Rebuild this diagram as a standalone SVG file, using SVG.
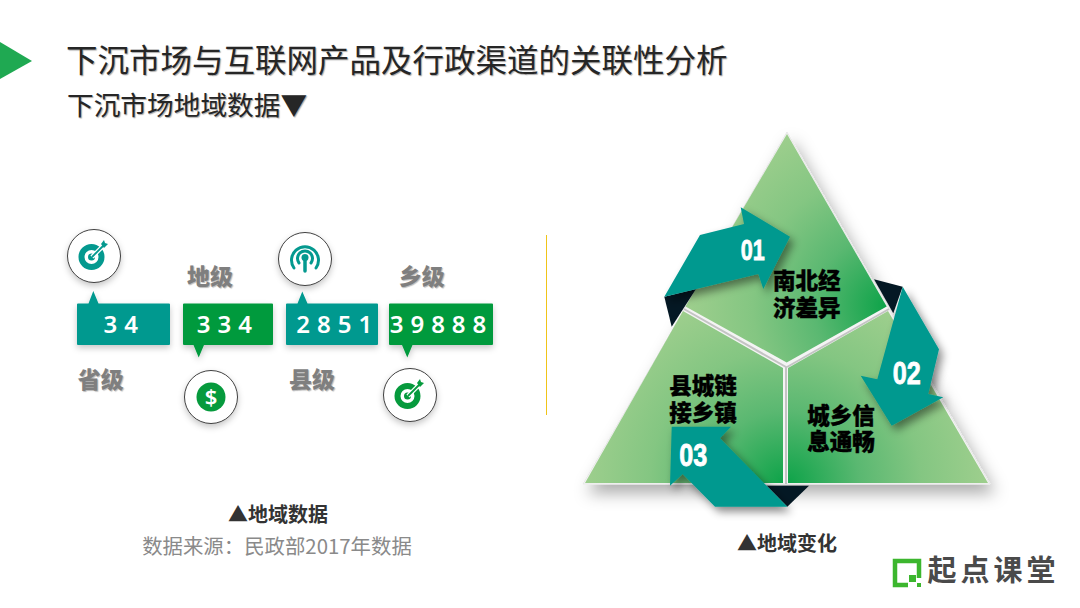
<svg xmlns="http://www.w3.org/2000/svg" width="1080" height="608" viewBox="0 0 1080 608">
<style>
text{font-family:"Noto Sans CJK SC","Noto Sans",sans-serif;text-anchor:middle}
.title{font-size:31.5px;fill:#262626;text-anchor:start;text-shadow:1px 1px 1px #aaa}
.sub{font-size:26.7px;fill:#262626;text-anchor:start;text-shadow:1px 1px 1px #aaa}
.lvl{font-size:23px;font-weight:900;fill:#7f7f7f;text-shadow:1px 1px 1px #bbb}
.num{font-family:"Noto Sans","Open Sans",sans-serif;font-size:24px;font-weight:600;fill:#fff;letter-spacing:7px}
.cap{font-size:20px;font-weight:700;fill:#333}
.src{font-size:20.4px;fill:#8a8a8a}
.tri{font-size:22.5px;font-weight:900;fill:#000;stroke:#000;stroke-width:.4px}
.no{font-family:"Liberation Sans",sans-serif;font-weight:700;fill:#fff;stroke:#fff;stroke-width:.8px}
.teal{fill:#04998f}.green{fill:#069a3d}.dark{fill:#041824}
.ring{fill:#fff;stroke:#404040;stroke-width:1;filter:url(#ss)}
</style>
<defs>
<filter id="ss" x="-30%" y="-30%" width="160%" height="170%"><feDropShadow dx="0" dy="3" stdDeviation="3" flood-color="#000" flood-opacity=".22"/></filter>
<filter id="as" x="-30%" y="-30%" width="170%" height="170%"><feDropShadow dx="4" dy="5" stdDeviation="4" flood-color="#000" flood-opacity=".45"/></filter>
<filter id="ts" x="-15%" y="-15%" width="130%" height="135%"><feDropShadow dx="5" dy="9" stdDeviation="8" flood-color="#000" flood-opacity=".32"/></filter>
<radialGradient id="g1" gradientUnits="userSpaceOnUse" cx="886" cy="306" r="205"><stop offset="0" stop-color="#0ea349"/><stop offset=".35" stop-color="#5ab871"/><stop offset=".65" stop-color="#84c682"/><stop offset="1" stop-color="#a0cf8e"/></radialGradient>
<radialGradient id="g2" gradientUnits="userSpaceOnUse" cx="783" cy="483" r="205"><stop offset="0" stop-color="#0ea349"/><stop offset=".35" stop-color="#5ab871"/><stop offset=".65" stop-color="#84c682"/><stop offset="1" stop-color="#a0cf8e"/></radialGradient>
<radialGradient id="g3" gradientUnits="userSpaceOnUse" cx="788" cy="483" r="205"><stop offset="0" stop-color="#0ea349"/><stop offset=".35" stop-color="#5ab871"/><stop offset=".65" stop-color="#84c682"/><stop offset="1" stop-color="#a0cf8e"/></radialGradient>
</defs>
<rect width="1080" height="608" fill="#fff"/>
<g id="header">
<polygon points="0,42 32,61 0,79" fill="#1fa952"/>
<text class="title" x="66" y="72">下沉市场与互联网产品及行政渠道的关联性分析</text>
<text class="sub" x="67" y="115">下沉市场地域数据▼</text>
</g>
<line x1="546.5" y1="235" x2="546.5" y2="415" stroke="#f0c419" stroke-width="1"/>
<g id="node-province">
<circle class="ring" cx="94" cy="256" r="26.5"/>
<circle cx="91.5" cy="257" r="10" fill="none" stroke="#04998f" stroke-width="6"/><circle cx="91.5" cy="257" r="3.5" class="teal"/>
<path d="M92 257L104 245" stroke="#fff" stroke-width="4.5"/><path d="M92 257L104 245" stroke="#04998f" stroke-width="1.8"/><polygon points="101,244 104,240 105,243 108,244 104,248" class="teal"/>
<path class="teal" filter="url(#ss)" d="M88.5 303.500L93.300 291L98.500 303.500H169A1 1 0 0 1 170 304.500V344A1 1 0 0 1 169 345H78A1 1 0 0 1 77 344V304.500A1 1 0 0 1 78 303.500Z"/>
<text class="num" x="124.200" y="333">34</text>
<text class="lvl" x="100.700" y="388">省级</text>
</g>
<g id="node-city">
<path class="green" filter="url(#ss)" d="M184 303.500H272A1 1 0 0 1 273 304.500V344A1 1 0 0 1 272 345H204L198.700 357.500L193.500 345H184A1 1 0 0 1 183 344V304.500A1 1 0 0 1 184 303.500Z"/>
<text class="num" x="227.800" y="333">334</text>
<text class="lvl" x="210" y="285">地级</text>
<circle class="ring" cx="211" cy="397" r="26.500"/>
<circle cx="211" cy="397" r="14.500" class="green"/>
<text x="211" y="405" style="font-family:'Noto Sans',sans-serif;font-size:22px;font-weight:600;fill:#fff">$</text>
</g>
<g id="node-county">
<circle class="ring" cx="305" cy="259" r="26.500"/>
<g fill="none" stroke="#04998f" stroke-width="3" stroke-linecap="round"><path d="M294 268A13.500 13.500 0 1 1 316 268"/><path d="M299 263A7.500 7.500 0 1 1 311 263"/><path d="M305 258V271" stroke-width="3.500"/></g>
<circle cx="305" cy="257.500" r="3.500" class="teal"/>
<path class="teal" filter="url(#ss)" d="M287 303.500H297.500L302.300 291.500L307.500 303.500H377A1 1 0 0 1 378 304.500V344A1 1 0 0 1 377 345H287A1 1 0 0 1 286 344V304.500A1 1 0 0 1 287 303.500Z"/>
<text class="num" x="337.800" y="333">2851</text>
<text class="lvl" x="312" y="388">县级</text>
</g>
<g id="node-town">
<path class="green" filter="url(#ss)" d="M390 303.500H492A1 1 0 0 1 493 304.500V344A1 1 0 0 1 492 345H412.500L407.300 357.500L402 345H390A1 1 0 0 1 389 344V304.500A1 1 0 0 1 390 303.500Z"/>
<text class="num" x="441.500" y="333">39888</text>
<text class="lvl" x="421.700" y="285">乡级</text>
<circle class="ring" cx="410" cy="395" r="26.500"/>
<circle cx="407.500" cy="396" r="10" fill="none" stroke="#069a3d" stroke-width="6"/><circle cx="407.500" cy="396" r="3.500" class="green"/>
<path d="M408 396L420 384" stroke="#fff" stroke-width="4.500"/><path d="M408 396L420 384" stroke="#069a3d" stroke-width="1.800"/><polygon points="417,383 420,379 421,382 424,383 420,387" class="green"/>
</g>
<g id="caption-left">
<text class="cap" x="278" y="522">▲地域数据</text>
<text class="src" x="277" y="554">数据来源：民政部2017年数据</text>
</g>
<g id="triangle">
<polygon points="787,132 990,484 583,484" fill="#f4f4f4" stroke="#e8e8e8" stroke-width="1" filter="url(#ts)"/>
<path d="M684 309L786 367V484M889 309L787 367" fill="none" stroke="#c4c4c4" stroke-width="2"/>
<g id="seg-top"><polygon points="787,134 886.700,306.500 786.700,362.500 685.500,306.500" fill="url(#g1)"/></g>
<g id="seg-left"><polygon points="683,311 783,368 783,483 585,483" fill="url(#g2)"/></g>
<g id="seg-right"><polygon points="888,311 988,483 788,483 788,368" fill="url(#g3)"/></g>
</g>
<g id="connectors">
<polygon class="dark" points="664.300,296.700 696,289 671.700,326.700"/>
<polygon class="dark" points="874,279.300 902.700,286.700 893.300,313.300"/>
<polygon class="dark" points="766.700,485.700 809,485.700 787.300,506.700"/>
<polygon class="teal" filter="url(#as)" points="664.300,296.700 700,235 744,224 740.700,207.300 790,236.700 763.300,289 758.300,274"/>
<polygon class="teal" filter="url(#as)" points="902.700,286.700 939,349.300 928.300,394 943.300,397.300 891.700,425.700 860.700,375.700 877.300,379.300"/>
<polygon class="teal" filter="url(#as)" points="787.300,506.700 715,506.700 682.700,474 670,485.700 671.700,426.700 731,426.700 720,438.300"/>
</g>
<g id="tri-labels">
<text class="tri" x="806.700" y="289">南北经<tspan x="806.700" dy="27">济差异</tspan></text>
<text class="tri" x="703" y="393.500">县城链<tspan x="703" dy="27">接乡镇</tspan></text>
<text class="tri" x="841" y="423.500">城乡信<tspan x="841" dy="26.500">息通畅</tspan></text>
<text class="no" x="752.700" y="260" font-size="30" textLength="24" lengthAdjust="spacingAndGlyphs">01</text>
<text class="no" x="906.700" y="384" font-size="32" textLength="28" lengthAdjust="spacingAndGlyphs">02</text>
<text class="no" x="693.300" y="465.500" font-size="32" textLength="28" lengthAdjust="spacingAndGlyphs">03</text>
</g>
<text class="cap" x="787" y="551">▲地域变化</text>
<g id="logo">
<path d="M908 585H895V561H919V578" fill="none" stroke="#3cb62e" stroke-width="4.500"/>
<rect x="909" y="575" width="7" height="7" fill="#3cb62e"/><rect x="917" y="583" width="4" height="4" fill="#3cb62e"/>
<text x="993.500" y="581" style="font-size:29px;font-weight:700;fill:#4a4a4a;letter-spacing:4px">起点课堂</text>
</g>
</svg>
